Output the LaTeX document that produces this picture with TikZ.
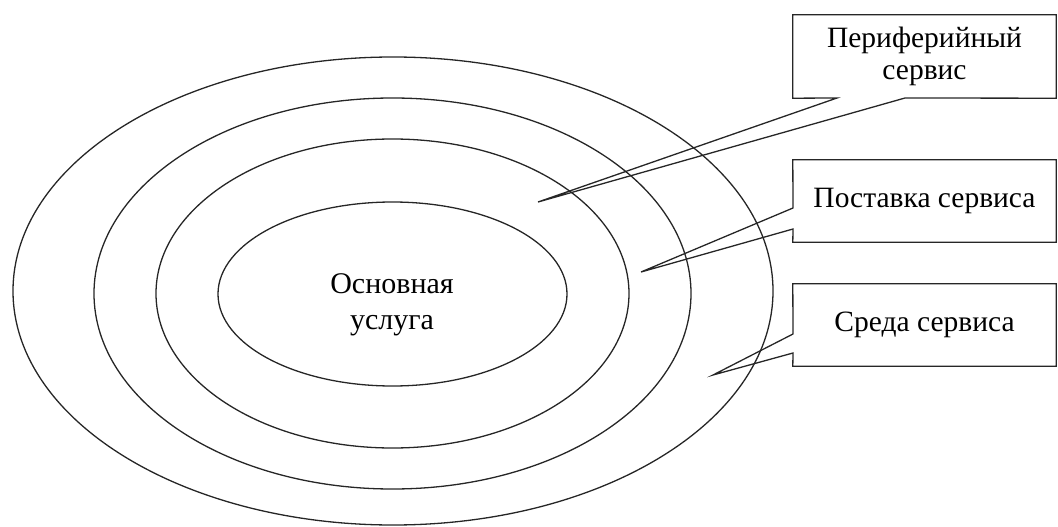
\documentclass[tikz,border=0pt]{standalone}
\usepackage{fontspec}
\setmainfont{Liberation Serif}
\tikzset{
  ring/.style={draw=black!85, line width=1.3pt},
  callout/.style={draw=black!85, line width=1.3pt, line join=miter},
  boxtext/.style={draw=none, minimum width=263pt, inner sep=0pt, align=center,
    font=\fontsize{29.5}{32}\selectfont},
  coretext/.style={draw=none, align=center, font=\fontsize{30}{36}\selectfont}
}
\begin{document}
\begin{tikzpicture}[x=1pt,y=-1pt]
\useasboundingbox (0,0) rectangle (1058,527);
% rings
\draw[ring] (393,291) ellipse [x radius=380, y radius=234];
\draw[ring] (392.5,293.5) ellipse [x radius=298.5, y radius=195.5];
\draw[ring] (392.5,293.5) ellipse [x radius=236.5, y radius=154.5];
\draw[ring] (392.5,294) ellipse [x radius=174.5, y radius=92];
\node[coretext] (core) at (392,305) {Основная\\услуга};
% box nodes
\node[boxtext, minimum height=83pt] (b1) at (924.5,56.5) {Периферийный\\сервис};
\node[boxtext, minimum height=82pt] (b2) at (924.5,201) {Поставка сервиса};
\node[boxtext, minimum height=82pt] (b3) at (924.5,325) {Среда сервиса};
% callout points
\coordinate (t1) at (538,202);
\coordinate (n1a) at (837,98);
\coordinate (n1b) at (905,98);
\coordinate (t2) at (641,272);
\coordinate (n2a) at (793,208);
\coordinate (n2b) at (793,229);
\coordinate (t3) at (713,375);
\coordinate (n3a) at (793,334);
\coordinate (n3b) at (793,353);
% callouts
\draw[callout] (b1.north west) -- (b1.north east) -- (b1.south east) -- (n1b) -- (t1) -- (n1a) -- (b1.south west) -- cycle;
\draw[callout] (b2.north west) -- (b2.north east) -- (b2.south east) -- (b2.south west) -- (n2b) -- (t2) -- (n2a) -- cycle;
\draw[callout] (b3.north west) -- (b3.north east) -- (b3.south east) -- (b3.south west) -- (n3b) -- (t3) -- (n3a) -- cycle;
\end{tikzpicture}
\end{document}
